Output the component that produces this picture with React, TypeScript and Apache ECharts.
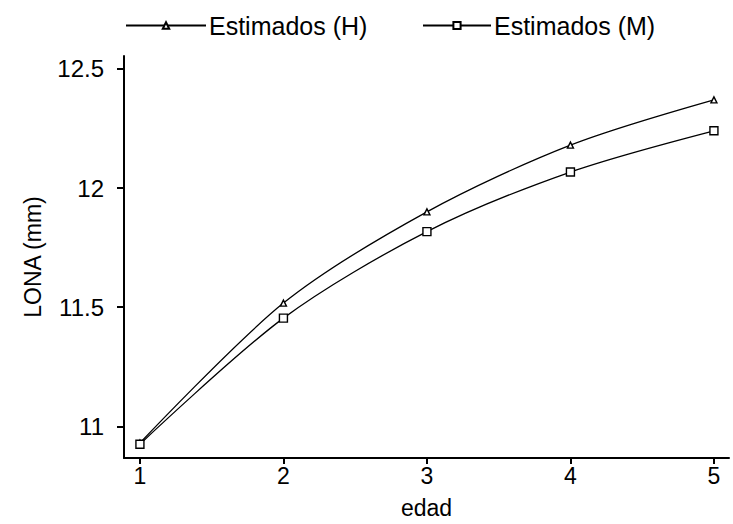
import React, { useEffect, useRef } from "react";
import * as echarts from "echarts";

// Ages on the x axis
const edades: number[] = [1, 2, 3, 4, 5];
// Estimated LONA (mm) for males (H) and females (M)
const estimadosH: number[] = [10.93, 11.517, 11.9, 12.18, 12.37];
const estimadosM: number[] = [10.925, 11.454, 11.817, 12.067, 12.24];
const xTicks: number[] = [1, 2, 3, 4, 5];
const yTicks: number[] = [11, 11.5, 12, 12.5];

const FONT = "'Liberation Sans', Arial, sans-serif";

export default function App() {
  const ref = useRef<HTMLDivElement>(null);

  useEffect(() => {
    if (!ref.current) return;
    const chart = echarts.init(ref.current, null, { renderer: "svg" });

    const lineStyle = { color: "#000", width: 1.3 };
    const itemStyle = { color: "#fff", borderColor: "#000", borderWidth: 1.4 };

    chart.setOption({
      animation: false,
      backgroundColor: "#fff",
      textStyle: { fontFamily: FONT, color: "#000" },
      legend: [
        {
          data: ["Estimados (H)"],
          left: 120,
          top: 8,
          itemWidth: 80,
          itemHeight: 8,
          textStyle: { fontSize: 25, color: "#000", fontFamily: FONT, padding: [0, 0, 0, -2] },
        },
        {
          data: ["Estimados (M)"],
          left: 417,
          top: 8,
          itemWidth: 68,
          itemHeight: 9,
          textStyle: { fontSize: 25, color: "#000", fontFamily: FONT, padding: [0, 0, 0, -2] },
        },
      ],
      grid: { left: 124, right: 4, top: 56, bottom: 62, containLabel: false },
      xAxis: {
        type: "value",
        min: 0.889,
        max: 5.105,
        name: "edad",
        nameLocation: "middle",
        nameGap: 38,
        nameMoveOverlap: false,
        nameTextStyle: { fontSize: 23, color: "#000", fontFamily: FONT },
        axisLine: { lineStyle: { color: "#000", width: 2 } },
        axisTick: { length: 6, lineStyle: { color: "#000", width: 2 }, customValues: xTicks },
        axisLabel: { fontSize: 23, color: "#000", margin: 6, customValues: xTicks },
        splitLine: { show: false },
      },
      yAxis: {
        type: "value",
        min: 10.867,
        max: 12.554,
        name: "LONA (mm)",
        nameLocation: "middle",
        nameGap: 80,
        nameMoveOverlap: false,
        nameTextStyle: { fontSize: 23, color: "#000", fontFamily: FONT },
        axisLine: { show: true, lineStyle: { color: "#000", width: 2 } },
        axisTick: { show: true, length: 7, lineStyle: { color: "#000", width: 2 }, customValues: yTicks },
        axisLabel: { fontSize: 24, color: "#000", margin: 20, customValues: yTicks },
        splitLine: { show: false },
      },
      series: [
        {
          name: "Estimados (H)",
          type: "line",
          smooth: 0.3,
          data: edades.map((e, i) => [e, estimadosH[i]]),
          symbol: "triangle",
          symbolSize: 6,
          lineStyle,
          itemStyle,
        },
        {
          name: "Estimados (M)",
          type: "line",
          smooth: 0.3,
          data: edades.map((e, i) => [e, estimadosM[i]]),
          symbol: "rect",
          symbolSize: 8,
          lineStyle,
          itemStyle,
        },
      ],
    });

    return () => chart.dispose();
  }, []);

  return <div ref={ref} style={{ width: 733, height: 524, position: "absolute", left: 0, top: 0 }} />;
}
